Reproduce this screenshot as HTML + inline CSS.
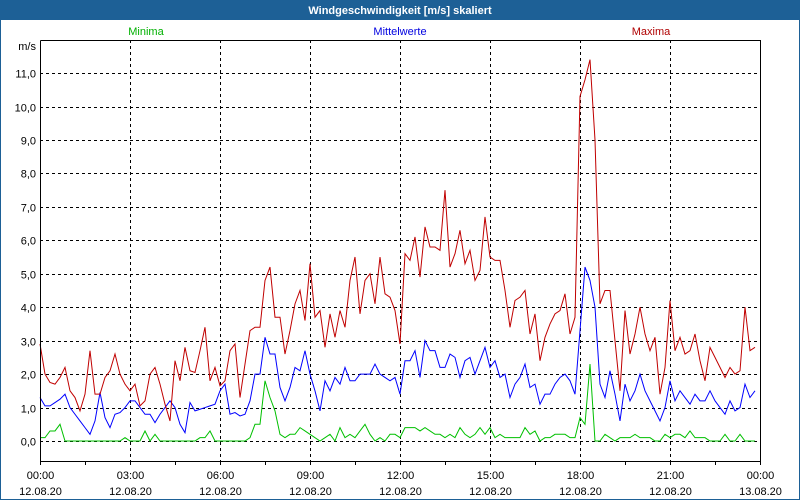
<!DOCTYPE html>
<html><head><meta charset="utf-8"><style>
body{margin:0;background:#fff;}
#wrap{position:relative;width:800px;height:500px;overflow:hidden;font-family:"Liberation Sans",sans-serif;}
svg text{font-family:"Liberation Sans",sans-serif;font-size:11px;}
</style></head><body>
<div id="wrap">
<svg id="chart" width="800" height="500">
<rect x="0" y="0" width="800" height="500" fill="#ffffff" stroke="#1d6096" stroke-width="2"/>
<rect x="0" y="0" width="800" height="20" fill="#1d6096"/>
<text x="400" y="14" text-anchor="middle" fill="#fff" font-weight="bold">Windgeschwindigkeit [m/s] skaliert</text>
<text x="146" y="35" text-anchor="middle" fill="#00b000">Minima</text>
<text x="400" y="35" text-anchor="middle" fill="#0000e0">Mittelwerte</text>
<text x="651" y="35" text-anchor="middle" fill="#b00000">Maxima</text>
<text x="36" y="50" text-anchor="end" fill="#000">m/s</text>
<g id="grid"></g><g id="series"></g>
<path d="M40.5 40.5V461.5H760.5V40.5H40.5" fill="none" stroke="#000"/>
</svg></div>
<script>
const maxima=[2.9,2.0,1.75,1.7,1.9,2.2,1.5,1.3,0.9,1.4,2.7,1.4,1.4,1.9,2.1,2.6,2.0,1.7,1.5,1.7,1.05,1.2,2.0,2.2,1.7,1.1,0.6,2.4,1.8,2.8,2.1,2.05,2.7,3.4,1.8,2.2,1.65,1.8,2.7,2.9,1.3,2.3,
3.3,3.4,3.4,4.8,5.2,3.7,3.7,2.6,3.3,4.1,4.5,3.6,5.3,3.7,3.9,2.8,3.8,3.1,3.9,3.4,4.8,5.5,3.8,4.8,5.0,4.1,5.5,4.4,4.3,3.9,2.9,5.6,5.4,6.1,4.9,6.4,5.8,5.8,5.7,7.5,5.2,5.6,6.3,5.3,5.7,4.8,5.1,6.7,5.5,5.4,5.4,4.5,
3.4,4.2,4.3,4.5,3.2,3.8,2.4,3.1,3.5,3.8,3.9,4.4,3.2,3.7,10.3,10.8,11.4,9.0,4.1,4.5,4.5,3.0,1.5,3.9,2.6,3.2,4.0,3.2,2.7,3.1,1.4,2.2,4.2,2.7,3.1,2.6,2.7,3.2,2.4,1.8,2.8,2.5,2.2,1.9,2.2,2.0,2.1,4.0,2.7,2.8];
const mittel=[1.3,1.05,1.05,1.15,1.25,1.4,1.0,0.8,0.6,0.4,0.2,0.6,1.45,0.7,0.4,0.8,0.85,1.0,1.2,1.2,1.0,0.8,0.8,0.55,0.8,1.0,1.2,1.0,0.5,0.25,1.15,0.9,0.95,1.0,1.05,1.1,1.5,1.7,0.8,0.85,0.75,0.8,
1.2,2.0,2.0,3.1,2.6,2.6,1.6,1.2,1.6,2.2,2.1,2.7,2.0,1.5,0.9,1.8,1.5,1.9,1.7,2.2,1.8,1.8,2.0,2.0,2.0,2.3,2.0,1.9,1.8,1.9,1.4,2.4,2.4,2.7,1.9,3.0,2.7,2.7,2.2,2.2,2.6,2.5,1.9,2.4,2.5,2.0,2.4,2.8,2.2,2.4,1.9,2.0,
1.3,1.7,1.9,2.3,1.6,1.7,1.1,1.4,1.4,1.7,1.9,2.0,1.8,1.4,3.3,5.2,4.8,4.0,1.7,1.3,2.1,1.4,0.6,1.7,1.2,1.5,2.0,1.5,1.2,0.9,0.6,1.0,1.8,1.2,1.5,1.3,1.1,1.4,1.2,1.2,1.5,1.2,1.0,0.8,1.2,0.9,1.0,1.7,1.3,1.5];
const minima=[0.1,0.1,0.3,0.3,0.5,0,0,0,0,0,0,0,0,0,0,0,0,0.1,0,0,0,0.3,0,0.2,0,0,0,0,0,0,0,0,0.1,0.1,0.3,0,0,0,0,0,0,0,
0.1,0.5,0.5,1.8,1.3,0.9,0.2,0.1,0.2,0.2,0.4,0.3,0.2,0.1,0,0.1,0.2,0,0.4,0.1,0.2,0.1,0.3,0.5,0.2,0,0.1,0,0.2,0.2,0.1,0.4,0.4,0.4,0.3,0.4,0.3,0.2,0.2,0.1,0.2,0.1,0.4,0.2,0.1,0.2,0.4,0.2,0.4,0.1,0.2,0.1,
0.1,0.1,0.1,0.4,0.2,0.3,0,0.1,0.1,0.2,0.2,0.2,0.1,0.1,0.7,0.5,2.3,0,0,0.2,0.1,0,0.1,0.1,0.1,0.2,0.1,0.1,0.1,0,0,0.2,0.1,0.2,0.2,0.1,0.3,0.1,0.1,0.1,0,0,0,0.2,0,0,0.2,0,0,0];
const yTicks=["0,0","1,0","2,0","3,0","4,0","5,0","6,0","7,0","8,0","9,0","10,0","11,0"];
const xTimes=["00:00","03:00","06:00","09:00","12:00","15:00","18:00","21:00","00:00"];
const xDates=["12.08.20","12.08.20","12.08.20","12.08.20","12.08.20","12.08.20","12.08.20","12.08.20","13.08.20"];

const NS="http://www.w3.org/2000/svg";
const X0=40,X1=760,SLOTS=144;
function xs(i){return X0+i*(X1-X0)/SLOTS;}
function ys(v){return 441-v*33.45;}
function mk(t,a,p){const e=document.createElementNS(NS,t);for(const k in a)e.setAttribute(k,a[k]);p.appendChild(e);return e;}
const grid=document.getElementById('grid'),ser=document.getElementById('series');
yTicks.forEach((t,i)=>{const y=Math.round(ys(i))+0.5;
 const l=mk('line',{x1:X0,x2:X1,y1:y,y2:y,stroke:'#000','stroke-dasharray':'3,3'},grid);
 
 
 const tx=mk('text',{x:36,y:y+4,'text-anchor':'end',fill:'#000'},grid);tx.textContent=t;
 
 
});
for(let k=0;k<=16;k++){const x=Math.round(X0+k*45)+0.5;
 const tk=mk('line',{x1:x,x2:x,y1:461,y2:465,stroke:'#000'},grid);
 
 
}
xTimes.forEach((t,i)=>{const x=Math.round(X0+i*90)+0.5;
 if(i>0&&i<8){const l=mk('line',{x1:x,x2:x,y1:40,y2:461,stroke:'#000','stroke-dasharray':'3,3'},grid);
  
  }
 const a=mk('text',{x:x,y:479,'text-anchor':'middle',fill:'#000'},grid);a.textContent=t;
 
 
 const b=mk('text',{x:x,y:495,'text-anchor':'middle',fill:'#000'},grid);b.textContent=xDates[i];
 
 
});
function line(d,c,name){const p=mk('polyline',{points:d.map((v,i)=>xs(i)+','+ys(v)).join(' '),fill:'none',stroke:c,'stroke-width':1},ser);
 
 }
line(minima,'#00c000','minima-line');
line(mittel,'#0000ff','mittelwerte-line');
line(maxima,'#c00000','maxima-line');
</script></body></html>
